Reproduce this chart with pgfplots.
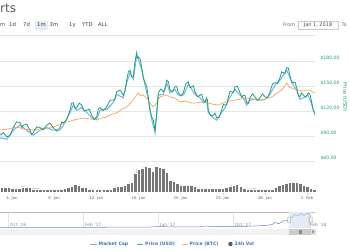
\documentclass[border=0pt]{standalone}
\usepackage{pgfplots}
\pgfplotsset{compat=1.18}
\usepackage{fontspec}
\setmainfont{DejaVu Sans}
\definecolor{usd}{HTML}{22A07A}
\definecolor{mcap}{HTML}{7CB5EC}
\definecolor{btc}{HTML}{F7A35C}
\definecolor{vol}{HTML}{777777}
\definecolor{gridc}{HTML}{E6E6E6}
\definecolor{axisc}{HTML}{CCD6EB}
\definecolor{labc}{HTML}{666666}
\definecolor{legc}{HTML}{3F73B8}
\definecolor{navline}{HTML}{6685C2}
\definecolor{selc}{HTML}{CFDAEE}
\definecolor{btnc}{HTML}{E6EBF5}
\newcommand{\fs}[1]{\fontsize{#1}{#1}\selectfont}
\begin{document}
\begin{tikzpicture}[x=1pt,y=1pt]
\useasboundingbox (0,0) rectangle (350,250);
% header (the page is a crop: only the end of "Charts" and of "Zoom" is visible)
\node[anchor=west, inner sep=0pt, text=black!65, font=\fs{12}] at (0,242) {rts};
\fill[btnc] (35,220) rectangle (48,229);
\node[anchor=west, inner sep=0pt, text=black!70, font=\fs{5.3}] at (0,225) {m};
\foreach \x/\t in {12.5/1d, 26.5/7d, 41.5/1m, 54/3m, 72.5/1y, 87.5/YTD, 103/ALL} {\node[inner sep=0pt, text=black!75, font=\fs{5.3}] at (\x,225) {\t};}
\node[inner sep=0pt, text=black!60, font=\fs{4.8}] at (289,225) {From};
\draw[black!20, line width=0.4pt] (298,220.5) rectangle (338,228.5);
\node[inner sep=0pt, text=black!70, font=\fs{5}] at (318,224.5) {Jan 1, 2018};
\node[anchor=west, inner sep=0pt, text=black!60, font=\fs{4.8}] at (341.5,225) {To};
\draw[gridc, line width=0.5pt] (0,215) -- (315,215);

% volume pane
\begin{axis}[at={(0pt,58pt)}, anchor=south west, scale only axis, width=315pt, height=30pt,
  xmin=2.86, xmax=32.75, ymin=0, ymax=300,
  axis y line=none, axis x line*=bottom, x axis line style={axisc, line width=0.5pt},
  ytick={150}, ymajorgrids, grid style={gridc, line width=0.5pt},
  xtick={4,8,12,16,20,24,28,32},
  xticklabels={4. Jan, 8. Jan, 12. Jan, 16. Jan, 20. Jan, 24. Jan, 28. Jan, 1. Feb},
  tick align=outside, major tick length=3pt, xtick style={axisc, line width=0.5pt},
  xticklabel style={font=\fs{3.9}, text=labc, inner sep=1pt, yshift=-0.5pt},
  clip=false]
\addplot[ybar, bar width=0.333, bar shift=0pt, fill=vol, draw=white, line width=0.15pt] coordinates {
(3.00,47)(3.33,47)(3.67,45)(4.00,37)(4.33,38)(4.67,40)(5.00,53)(5.33,52)(5.67,48)(6.00,33)
(6.33,34)(6.67,32)(7.00,28)(7.33,27)(7.67,25)(8.00,26)(8.33,27)(8.67,28)(9.00,35)(9.33,50)
(9.67,60)(10.00,77)(10.33,72)(10.67,50)(11.00,45)(11.33,32)(11.67,30)(12.00,30)(12.33,28)(12.67,29)
(13.00,30)(13.33,32)(13.67,45)(14.00,60)(14.33,60)(14.67,65)(15.00,85)(15.33,100)(15.67,190)(16.00,225)
(16.33,240)(16.67,260)(17.00,250)(17.33,210)(17.67,255)(18.00,245)(18.33,235)(18.67,200)(19.00,120)(19.33,105)
(19.67,85)(20.00,72)(20.33,70)(20.67,70)(21.00,68)(21.33,55)(21.67,42)(22.00,38)(22.33,37)(22.67,38)
(23.00,37)(23.33,36)(23.67,36)(24.00,35)(24.33,45)(24.67,62)(25.00,70)(25.33,78)(25.67,55)(26.00,35)
(26.33,30)(26.67,32)(27.00,33)(27.33,30)(27.67,28)(28.00,27)(28.33,27)(28.67,30)(29.00,45)(29.33,65)
(29.67,75)(30.00,90)(30.33,97)(30.67,100)(31.00,95)(31.33,85)(31.67,65)(32.00,55)(32.33,35)(32.67,32)
};
\end{axis}

% price pane
\begin{axis}[at={(0pt,89pt)}, anchor=south west, scale only axis, width=315pt, height=121pt,
  xmin=2.86, xmax=32.75, ymin=60, ymax=205.2,
  axis line style={draw=none}, xtick=\empty,
  ytick={60,90,120,150,180}, yticklabels={\$60.00,\$90.00,\$120.00,\$150.00,\$180.00},
  ymajorgrids, grid style={gridc, line width=0.5pt},
  yticklabel pos=right, ytick style={draw=none},
  yticklabel style={anchor=west, font=\fs{4.6}, text=usd, xshift=2pt, yshift=2.5pt},
  clip=false]
% market cap
\addplot[mcap, line width=1.1pt] coordinates {
(2.86,88)(3.50,86)(4.12,97)(4.76,103)(5.07,100)(5.71,94)(6.02,91)(6.66,97)(7.29,100)(7.92,97)
(8.55,97)(8.87,103)(9.50,118)(9.81,127)(10.14,121)(10.61,124)(11.09,118)(11.56,112)(12.03,110)(12.35,121)
(12.98,122)(13.61,130)(13.93,140)(14.56,136)(14.88,154)(15.19,166)(15.51,158)(15.83,187)(15.98,182)(16.30,170)
(16.62,151)(16.93,134)(17.25,110)(17.57,94)(17.88,139)(18.35,140)(18.68,154)(18.99,142)(19.46,146)(19.78,139)
(20.25,139)(20.73,152)(21.05,146)(21.36,140)(21.84,136)(22.15,130)(22.47,133)(22.62,118)(23.10,112)(23.42,109)
(23.89,118)(24.21,124)(24.52,133)(24.84,140)(25.16,146)(25.63,139)(25.94,136)(26.27,127)(26.58,133)(27.05,134)
(27.53,133)(28.00,134)(28.48,140)(28.95,151)(29.43,157)(29.74,163)(30.06,169)(30.37,160)(30.69,151)(31.01,145)
(31.32,134)(31.64,136)(32.11,139)(32.43,128)(32.75,115)
};
% price BTC
\addplot[btc, line width=0.7pt] coordinates {
(2.86,97.2)(3.65,98.5)(4.44,100.8)(5.23,98)(6.02,97.2)(6.81,99)(7.60,99.6)(8.40,103)(9.19,106.8)(9.98,109.5)
(10.76,111.6)(11.40,110.5)(12.03,109.2)(12.50,111.5)(12.98,112.8)(13.45,116)(13.93,117.6)(14.40,122)(14.88,124.8)(15.20,129)
(15.51,133.2)(15.75,138)(15.98,141.6)(16.22,138)(16.46,139.2)(16.70,136)(16.93,133.2)(17.17,128)(17.40,124.8)(17.57,127)
(17.73,129.6)(17.88,134)(18.04,136.8)(18.36,138)(18.68,139.2)(19.07,136.5)(19.46,135.6)(19.78,132)(20.10,130.8)(20.41,132)
(20.73,130.8)(21.05,129.5)(21.36,129.6)(22.00,130.5)(22.62,129.6)(23.10,128)(23.57,127.2)(23.90,129)(24.21,130.8)(24.70,132)
(25.16,133.2)(25.80,134.5)(26.42,135.6)(27.05,134)(27.69,133.2)(28.16,135)(28.64,136.8)(29.10,141)(29.59,145.2)(29.83,149)
(30.06,153.6)(30.30,149)(30.53,147.6)(30.85,146)(31.16,145.2)(31.64,144)(32.11,145.2)(32.43,143.5)(32.75,141.6)
};
% price USD
\addplot[usd, line width=0.8pt] coordinates {
(2.86,91)(3.18,94)(3.50,89)(3.81,90.5)(4.12,100)(4.44,107)(4.76,106)(4.92,100.5)(5.07,103)(5.39,104)
(5.71,97)(5.87,91.5)(6.02,94)(6.34,101)(6.66,100)(6.98,97.5)(7.29,103)(7.60,105.5)(7.92,100)(8.24,96)
(8.55,100)(8.71,107)(8.87,106)(9.19,109.5)(9.50,121)(9.66,129.5)(9.81,130)(9.98,123)(10.14,124)(10.38,129.5)
(10.61,127)(10.85,120)(11.09,121)(11.33,122)(11.56,115)(11.80,110)(12.03,113)(12.19,122.5)(12.35,124)(12.67,120.5)
(12.98,125)(13.30,133)(13.61,133)(13.77,134)(13.93,143)(14.25,145)(14.56,139)(14.72,144)(14.88,157)(15.04,167)
(15.19,169)(15.35,161)(15.51,161)(15.67,179.5)(15.83,190)(15.90,183.5)(15.98,185)(16.14,183)(16.30,173)(16.46,159.5)
(16.62,154)(16.78,149.5)(16.93,137)(17.09,121)(17.25,113)(17.41,109)(17.57,97)(17.72,115.5)(17.88,142)(18.12,146.5)
(18.35,143)(18.52,146)(18.68,157)(18.84,155)(18.99,145)(19.23,143)(19.46,149)(19.62,149.5)(19.78,142)(20.02,138)
(20.25,142)(20.49,152.5)(20.73,155)(20.89,148)(21.05,149)(21.21,150)(21.36,143)(21.60,137)(21.84,139)(22.00,140)
(22.15,133)(22.31,130.5)(22.47,136)(22.55,132.5)(22.62,121)(22.86,114)(23.10,115)(23.26,117.5)(23.42,112)(23.66,112.5)
(23.89,121)(24.05,128)(24.21,127)(24.37,127.5)(24.52,136)(24.68,143.5)(24.84,143)(25.00,142)(25.16,149)(25.40,149.5)
(25.63,142)(25.79,136.5)(25.94,139)(26.11,138.5)(26.27,130)(26.43,129)(26.58,136)(26.82,140.5)(27.05,137)(27.29,132.5)
(27.53,136)(27.77,140.5)(28.00,137)(28.24,136)(28.48,143)(28.72,152.5)(28.95,154)(29.19,153)(29.43,160)(29.59,167)
(29.74,166)(29.90,165)(30.06,172)(30.22,171.5)(30.37,163)(30.53,154.5)(30.69,154)(30.85,155)(31.01,148)(31.17,138.5)
(31.32,137)(31.48,142)(31.64,139)(31.88,136.5)(32.11,142)(32.27,140.5)(32.43,131)(32.59,120.5)(32.75,118)
};
\end{axis}
\node[rotate=-90, inner sep=0pt, text=usd, font=\fs{5.1}] at (345,153) {Price (USD)};

% navigator
\fill[black!5] (0,15) rectangle (315,21.5);
\begin{axis}[at={(0pt,22pt)}, anchor=south west, scale only axis, width=315pt, height=16pt,
  xmin=8.573, xmax=25.373, ymin=0, ymax=16,
  axis line style={draw=none}, ytick=\empty,
  xtick={9,13,17,21,25}, xticklabels={}, xmajorgrids, grid style={gridc, line width=0.5pt},
  xtick style={draw=none}, clip=false]
\addplot[navline, line width=0.5pt] coordinates {
(8.573,0.6)(11.77,0.6)(14.97,0.8)(16.57,1.0)(17.11,1.5)(17.91,1.0)(19.24,1.2)(19.51,2.0)(20.04,1.3)(20.84,1.5)
(21.91,1.8)(22.71,2.5)(23.08,3.5)(23.24,5.5)(23.45,4.2)(23.67,7.0)(23.93,7.5)(24.15,11)(24.31,13.5)(24.47,12)
(24.63,14.5)(24.79,12.5)(24.95,15)(25.11,14)(25.15,10.5)
};
\addplot[fill=selc, fill opacity=0.55, draw=none] coordinates {(24,0)(24,16)(25.15,16)(25.15,0)} \closedcycle;
\draw[black!45, fill=black!5, line width=0.3pt, rounded corners=0.5pt] (axis cs:24,5) ++(-1.5pt,0pt) rectangle ++(3pt,6pt);
\draw[black!45, fill=black!5, line width=0.3pt, rounded corners=0.5pt] (axis cs:25.15,5) ++(-1.5pt,0pt) rectangle ++(3pt,6pt);
\end{axis}
\foreach \x/\t in {10/Oct '16, 85/Feb '17, 160/Jun '17, 235/Oct '17, 310/Feb '18} {
  \node[anchor=west, inner sep=0pt, text=black!45, font=\fs{4.4}] at (\x,25) {\t};
}
\draw[black!25, line width=0.4pt] (0,38) -- (289,38);
\draw[black!25, line width=0.4pt] (311,38) -- (315,38);
\fill[black!20] (289,15) rectangle (311,21.5);
\draw[black!45, line width=0.3pt] (299,16.5) -- (299,20) (300,16.5) -- (300,20) (301,16.5) -- (301,20);
\fill[black!12] (311,15) rectangle (315.5,21.5);
\fill[black!55] (312.4,16.5) -- (314.2,18.25) -- (312.4,20) -- cycle;

% legend
\draw[mcap, line width=0.9pt] (90,6) -- (97,6);
\node[anchor=west, inner sep=0pt, text=legc, font=\fs{4.6}\bfseries] at (98.5,6) {Market Cap};
\draw[usd!80, line width=0.9pt] (137,6) -- (143,6);
\node[anchor=west, inner sep=0pt, text=legc, font=\fs{4.6}\bfseries] at (145,6) {Price (USD)};
\draw[btc!80, line width=0.9pt] (182,6) -- (188,6);
\node[anchor=west, inner sep=0pt, text=legc, font=\fs{4.6}\bfseries] at (189.5,6) {Price (BTC)};
\fill[black!65] (230.5,6) circle (2.2);
\node[anchor=west, inner sep=0pt, text=legc, font=\fs{4.6}\bfseries] at (234.5,6) {24h Vol};
\end{tikzpicture}
\end{document}
